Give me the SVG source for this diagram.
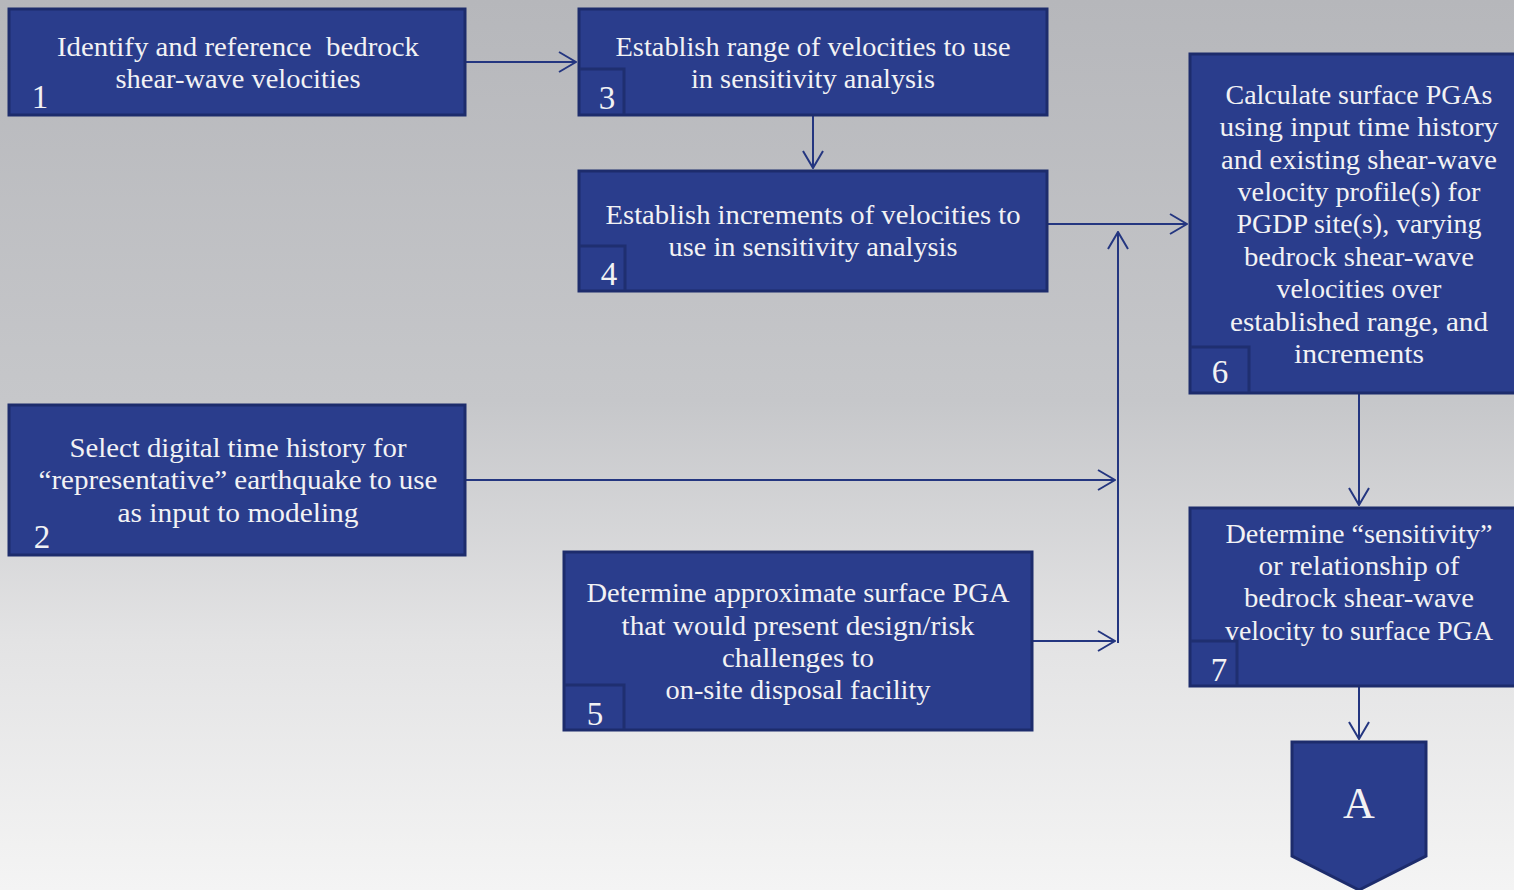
<svg xmlns="http://www.w3.org/2000/svg" width="1514" height="890" viewBox="0 0 1514 890">
<defs>
<linearGradient id="bg" x1="0" y1="0" x2="0" y2="1">
<stop offset="0" stop-color="#b6b7bb"/>
<stop offset="0.45" stop-color="#c6c7ca"/>
<stop offset="0.72" stop-color="#e3e3e4"/>
<stop offset="1" stop-color="#f4f4f4"/>
</linearGradient>
<marker id="ah" viewBox="0 0 20 22" refX="19" refY="11" markerWidth="20" markerHeight="22" markerUnits="userSpaceOnUse" orient="auto">
<path d="M2,1 L19,11 L2,21" fill="none" stroke="#243680" stroke-width="2"/>
</marker>
</defs>
<style>
.box{fill:#2a3d8c;stroke:#1d2c6c;stroke-width:3}
.tab{fill:none;stroke:#1f2f70;stroke-width:3}
.t{font-family:"Liberation Serif","DejaVu Serif",serif;font-size:27px;fill:#f2f2f4;text-anchor:middle}
.n{font-family:"Liberation Serif","DejaVu Serif",serif;font-size:33px;fill:#f2f2f4;text-anchor:middle}
.c{fill:none;stroke:#243680;stroke-width:2}
</style>
<rect x="0" y="0" width="1514" height="890" fill="url(#bg)"/>

<g id="connectors">
<path class="c" d="M466,62 H576" marker-end="url(#ah)"/>
<path class="c" d="M813,116 V168" marker-end="url(#ah)"/>
<path class="c" d="M1048,224 H1187" marker-end="url(#ah)"/>
<path class="c" d="M1118,643 V232" marker-end="url(#ah)"/>
<path class="c" d="M466,480 H1115" marker-end="url(#ah)"/>
<path class="c" d="M1033,641 H1115" marker-end="url(#ah)"/>
<path class="c" d="M1359,394 V505" marker-end="url(#ah)"/>
<path class="c" d="M1359,687 V739" marker-end="url(#ah)"/>
</g>

<g id="node1">
<rect class="box" x="9" y="9" width="456" height="106"/>
<text class="t" x="238" y="56" textLength="362" lengthAdjust="spacingAndGlyphs" xml:space="preserve">Identify and reference  bedrock</text>
<text class="t" x="238" y="88" textLength="245" lengthAdjust="spacingAndGlyphs">shear-wave velocities</text>
<text class="n" x="40" y="108">1</text>
</g>

<g id="node3">
<rect class="box" x="579" y="9" width="468" height="106"/>
<path class="tab" d="M580,69 H624 V114"/>
<text class="t" x="813" y="56" textLength="395" lengthAdjust="spacingAndGlyphs">Establish range of velocities to use</text>
<text class="t" x="813" y="88" textLength="244" lengthAdjust="spacingAndGlyphs">in sensitivity analysis</text>
<text class="n" x="607" y="109">3</text>
</g>

<g id="node4">
<rect class="box" x="579" y="171" width="468" height="120"/>
<path class="tab" d="M580,246 H625 V290"/>
<text class="t" x="813" y="224" textLength="415" lengthAdjust="spacingAndGlyphs">Establish increments of velocities to</text>
<text class="t" x="813" y="256" textLength="289" lengthAdjust="spacingAndGlyphs">use in sensitivity analysis</text>
<text class="n" x="609" y="285">4</text>
</g>

<g id="node6">
<rect class="box" x="1190" y="54" width="330" height="339"/>
<path class="tab" d="M1191,347 H1249 V392"/>
<text class="t" x="1359" y="104" textLength="267" lengthAdjust="spacingAndGlyphs">Calculate surface PGAs</text>
<text class="t" x="1359" y="136" textLength="279" lengthAdjust="spacingAndGlyphs">using input time history</text>
<text class="t" x="1359" y="169" textLength="276" lengthAdjust="spacingAndGlyphs">and existing shear-wave</text>
<text class="t" x="1359" y="201" textLength="243" lengthAdjust="spacingAndGlyphs">velocity profile(s) for</text>
<text class="t" x="1359" y="233" textLength="245" lengthAdjust="spacingAndGlyphs">PGDP site(s), varying</text>
<text class="t" x="1359" y="266" textLength="230" lengthAdjust="spacingAndGlyphs">bedrock shear-wave</text>
<text class="t" x="1359" y="298" textLength="165" lengthAdjust="spacingAndGlyphs">velocities over</text>
<text class="t" x="1359" y="331" textLength="258" lengthAdjust="spacingAndGlyphs">established range, and</text>
<text class="t" x="1359" y="363" textLength="130" lengthAdjust="spacingAndGlyphs">increments</text>
<text class="n" x="1220" y="383">6</text>
</g>

<g id="node2">
<rect class="box" x="9" y="405" width="456" height="150"/>
<text class="t" x="238" y="457" textLength="337" lengthAdjust="spacingAndGlyphs">Select digital time history for</text>
<text class="t" x="238" y="489" textLength="399" lengthAdjust="spacingAndGlyphs">“representative” earthquake to use</text>
<text class="t" x="238" y="522" textLength="241" lengthAdjust="spacingAndGlyphs">as input to modeling</text>
<text class="n" x="42" y="548">2</text>
</g>

<g id="node5">
<rect class="box" x="564" y="552" width="468" height="178"/>
<path class="tab" d="M565,685 H624 V729"/>
<text class="t" x="798" y="602" textLength="423" lengthAdjust="spacingAndGlyphs">Determine approximate surface PGA</text>
<text class="t" x="798" y="635" textLength="353" lengthAdjust="spacingAndGlyphs">that would present design/risk</text>
<text class="t" x="798" y="667" textLength="152" lengthAdjust="spacingAndGlyphs">challenges to</text>
<text class="t" x="798" y="699" textLength="265" lengthAdjust="spacingAndGlyphs">on-site disposal facility</text>
<text class="n" x="595" y="725">5</text>
</g>

<g id="node7">
<rect class="box" x="1190" y="508" width="330" height="178"/>
<path class="tab" d="M1191,641 H1237 V685"/>
<text class="t" x="1359" y="543" textLength="267" lengthAdjust="spacingAndGlyphs">Determine “sensitivity”</text>
<text class="t" x="1359" y="575" textLength="201" lengthAdjust="spacingAndGlyphs">or relationship of</text>
<text class="t" x="1359" y="607" textLength="230" lengthAdjust="spacingAndGlyphs">bedrock shear-wave</text>
<text class="t" x="1359" y="640" textLength="268" lengthAdjust="spacingAndGlyphs">velocity to surface PGA</text>
<text class="n" x="1219" y="681">7</text>
</g>

<g id="nodeA">
<path class="box" d="M1292,742 H1426 V856 L1359,890 L1292,856 Z"/>
<text class="n" x="1359" y="818" style="font-size:44px">A</text>
</g>
</svg>
